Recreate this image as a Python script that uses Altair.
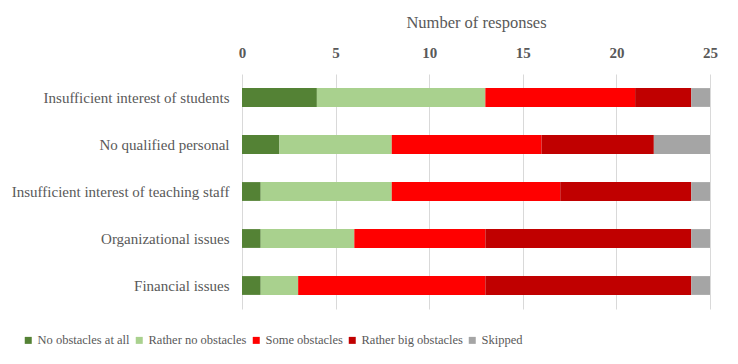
import altair as alt
import pandas as pd

categories = [
    "Insufficient interest of students",
    "No qualified personal",
    "Insufficient interest of teaching staff",
    "Organizational issues",
    "Financial issues",
]
series = ["No obstacles at all", "Rather no obstacles", "Some obstacles",
          "Rather big obstacles", "Skipped"]
colors = ["#548235", "#A9D18E", "#FF0000", "#C00000", "#A5A5A5"]

no_obstacles = [4, 2, 1, 1, 1]
rather_no = [9, 6, 7, 5, 2]
some = [8, 8, 9, 7, 10]
rather_big = [3, 6, 7, 11, 11]
skipped = [1, 3, 1, 1, 1]

values = [no_obstacles, rather_no, some, rather_big, skipped]

rows = []
for si, (s, vals) in enumerate(zip(series, values)):
    for c, v in zip(categories, vals):
        rows.append({"category": c, "series": s, "value": v, "order": si})
df = pd.DataFrame(rows)

FONT = "Liberation Serif"
TXT = "#595959"

chart = alt.Chart(df).mark_bar().encode(
    y=alt.Y("category:N", sort=categories, title=None,
            scale=alt.Scale(paddingInner=0.6, paddingOuter=0.3),
            axis=alt.Axis(domain=False, ticks=False, labelFont=FONT,
                          labelFontSize=15, labelColor=TXT, labelPadding=13,
                          labelLimit=400)),
    x=alt.X("value:Q", stack="zero", title="Number of responses",
            scale=alt.Scale(domain=[0, 25]),
            axis=alt.Axis(orient="top", values=[0, 5, 10, 15, 20, 25],
                          domain=False, ticks=False, grid=True,
                          gridColor="#d9d9d9", gridWidth=1, labelFlush=False,
                          labelFont=FONT, labelFontSize=15, labelFontWeight="bold",
                          labelColor=TXT, labelPadding=14,
                          titleFont=FONT, titleFontSize=16.5, titleFontWeight="normal",
                          titleColor=TXT, titlePadding=15)),
    color=alt.Color("series:N", sort=series,
                    scale=alt.Scale(domain=series, range=colors),
                    legend=alt.Legend(title=None, orient="none", legendX=-220,
                                      legendY=260, direction="horizontal",
                                      columns=5, symbolType="square",
                                      symbolSize=49, symbolStrokeWidth=0,
                                      labelFont=FONT, labelFontSize=12.5,
                                      labelColor=TXT, labelOffset=3,
                                      columnPadding=3)),
    order=alt.Order("order:Q"),
).properties(
    width=468, height=235,
    autosize=alt.AutoSizeParams(type="none"),
    padding={"left": 234, "top": 66, "right": 20, "bottom": 47},
).configure(font=FONT).configure_view(stroke=None)

chart.save("out.html", embed_options={"renderer": "svg", "actions": False})
